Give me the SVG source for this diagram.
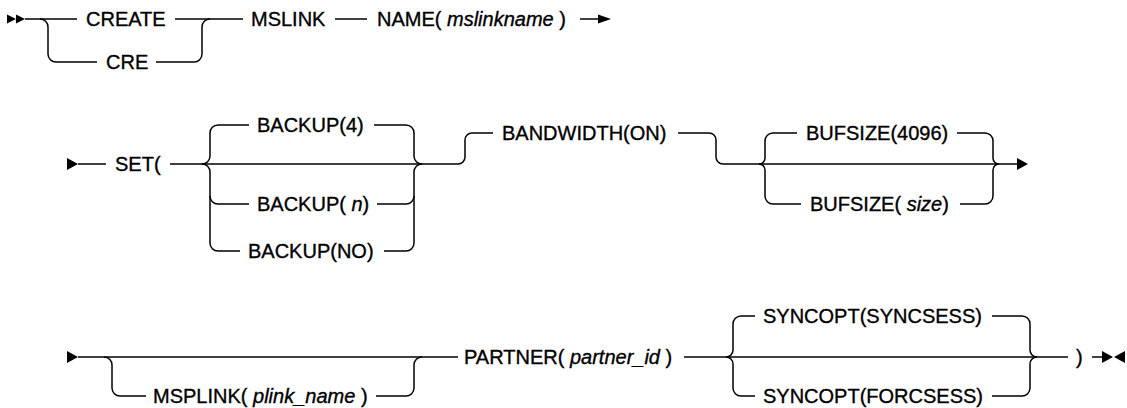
<svg xmlns="http://www.w3.org/2000/svg" width="1127" height="408" viewBox="0 0 1127 408">
<style>
.t{font-family:"Liberation Sans",Arial,sans-serif;font-size:20px;fill:#000;stroke:#000;stroke-width:0.35}
.v{font-style:italic}
.c{fill:none;stroke:#000;stroke-width:1.5}
.a{fill:#000;stroke:none}
</style>
<rect width="1127" height="408" fill="#fff"/>
<g id="connectors">
<g class="c">
<path d="M25,19 H77"/>
<path d="M175,19 H243"/>
<path d="M40,19 A8,8 0 0 1 48,27 V54 A8,8 0 0 0 56,62 H97"/>
<path d="M156,62 H194 A8,8 0 0 0 202,54 V27 A8,8 0 0 1 210,19"/>
<path d="M335,19 H367"/>
<path d="M580,19 H601"/>
<path d="M78,164 H106"/>
<path d="M170,164 H458"/>
<path d="M202,164 A8,8 0 0 0 210,156 V133 A8,8 0 0 1 218,125 H249"/>
<path d="M202,164 A8,8 0 0 1 210,172 V243 A8,8 0 0 0 218,251 H240"/>
<path d="M210,196 A8,8 0 0 0 218,204 H249"/>
<path d="M374,125 H406 A8,8 0 0 1 414,133 V156 A8,8 0 0 0 422,164"/>
<path d="M377,204 H406 A8,8 0 0 0 414,196"/>
<path d="M384,251 H406 A8,8 0 0 0 414,243 V172 A8,8 0 0 1 422,164"/>
<path d="M458,164 A7,7 0 0 0 465,157 V140 A7,7 0 0 1 472,133 H493"/>
<path d="M678,133 H709 A7,7 0 0 1 716,140 V157 A7,7 0 0 0 723,164 H1018"/>
<path d="M759,164 A6,6 0 0 0 765,158 V141 A8,8 0 0 1 773,133 H797"/>
<path d="M759,164 A6,6 0 0 1 765,170 V196 A8,8 0 0 0 773,204 H801"/>
<path d="M957,133 H985 A8,8 0 0 1 993,141 V158 A6,6 0 0 0 999,164"/>
<path d="M960,204 H985 A8,8 0 0 0 993,196 V170 A6,6 0 0 1 999,164"/>
<path d="M78,357 H458"/>
<path d="M104,357 A8,8 0 0 1 112,365 V388 A8,8 0 0 0 120,396 H146"/>
<path d="M376,396 H406 A8,8 0 0 0 414,388 V365 A8,8 0 0 1 422,357"/>
<path d="M684,357 H1068"/>
<path d="M726,357 A7,7 0 0 0 733,350 V324 A8,8 0 0 1 741,316 H755"/>
<path d="M726,357 A7,7 0 0 1 733,364 V388 A8,8 0 0 0 741,396 H755"/>
<path d="M992,316 H1022 A8,8 0 0 1 1030,324 V350 A7,7 0 0 0 1037,357"/>
<path d="M992,396 H1022 A8,8 0 0 0 1030,388 V364 A7,7 0 0 1 1037,357"/>
<path d="M1092,357 H1103"/>
</g>
<g class="a">
<polygon points="7,14.5 16,19 7,23.5"/>
<polygon points="16,14.5 25,19 16,23.5"/>
<polygon points="598,14.5 611,19 598,23.5"/>
<polygon points="67,158 78,164 67,170"/>
<polygon points="1017,158 1028,164 1017,170"/>
<polygon points="67,351 78,357 67,363"/>
<polygon points="1102,351 1113,357 1102,363"/>
<polygon points="1125,351 1114,357 1125,363"/>
</g>
</g>
<g id="n-create"><text class="t" x="86" y="25.5">CREATE</text></g>
<g id="n-cre"><text class="t" x="106" y="68.5">CRE</text></g>
<g id="n-mslink"><text class="t" x="251" y="25.5">MSLINK</text></g>
<g id="n-name"><text class="t" x="377" y="25.5">NAME( <tspan class="v">mslinkname</tspan> )</text></g>
<g id="n-set"><text class="t" x="115" y="170.5">SET(</text></g>
<g id="n-backup4"><text class="t" x="257" y="131.5">BACKUP(4)</text></g>
<g id="n-backupn"><text class="t" x="257" y="210.5">BACKUP( <tspan class="v">n</tspan>)</text></g>
<g id="n-backupno"><text class="t" x="248" y="257.5">BACKUP(NO)</text></g>
<g id="n-bandwidth"><text class="t" x="502" y="139.5">BANDWIDTH(ON)</text></g>
<g id="n-bufsize4096"><text class="t" x="806" y="139.5">BUFSIZE(4096)</text></g>
<g id="n-bufsizesize"><text class="t" x="810" y="210.5">BUFSIZE( <tspan class="v">size</tspan>)</text></g>
<g id="n-msplink"><text class="t" x="153" y="402.5">MSPLINK( <tspan class="v">plink_name</tspan> )</text></g>
<g id="n-partner"><text class="t" x="464" y="363.5">PARTNER( <tspan class="v">partner_id</tspan> )</text></g>
<g id="n-syncsess"><text class="t" x="763" y="322.5">SYNCOPT(SYNCSESS)</text></g>
<g id="n-forcsess"><text class="t" x="763" y="402.5">SYNCOPT(FORCSESS)</text></g>
<g id="n-close"><text class="t" x="1076" y="363.5">)</text></g>
</svg>
